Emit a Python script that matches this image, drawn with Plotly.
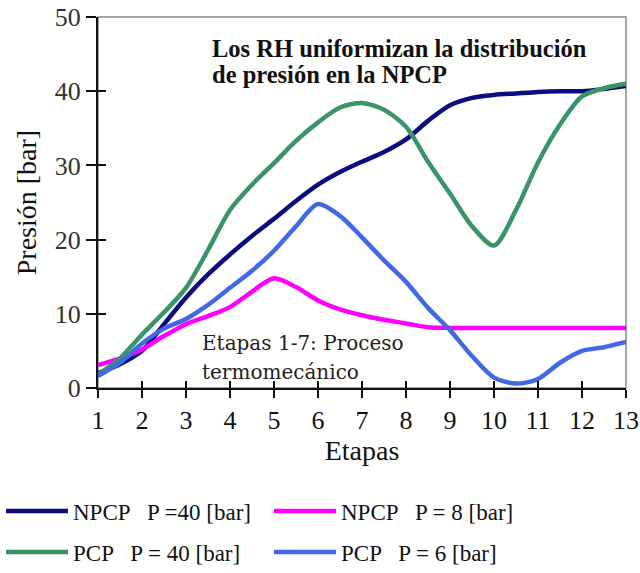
import plotly.graph_objects as go

etapas = [1, 1.5, 2, 2.5, 3, 3.5, 4, 4.5, 5, 5.5, 6, 6.5, 7, 7.5, 8, 8.5, 9, 9.5, 10, 10.5, 11, 11.5, 12, 12.5, 13]

npcp_40 = [2.0, 3.2, 5.0, 8.6, 12.2, 15.3, 18.0, 20.5, 22.8, 25.2, 27.4, 29.1, 30.5, 31.8, 33.5, 36.0, 38.1, 39.1, 39.5, 39.7, 39.9, 40.0, 40.0, 40.3, 40.7]
npcp_8 = [3.1, 4.0, 5.2, 7.0, 8.6, 9.7, 10.9, 13.0, 14.8, 13.6, 11.8, 10.6, 9.8, 9.2, 8.7, 8.2, 8.1, 8.1, 8.1, 8.1, 8.1, 8.1, 8.1, 8.1, 8.1]
pcp_40 = [1.8, 4.0, 7.2, 10.2, 13.5, 18.6, 24.0, 27.4, 30.3, 33.3, 35.8, 37.8, 38.4, 37.5, 35.2, 30.5, 26.2, 21.8, 19.2, 24.0, 30.4, 35.5, 39.3, 40.4, 41.0]
pcp_6 = [1.6, 3.4, 6.0, 8.0, 9.3, 11.2, 13.5, 15.8, 18.5, 21.8, 24.8, 23.2, 20.3, 17.2, 14.3, 10.8, 7.8, 4.3, 1.4, 0.6, 1.2, 3.4, 5.0, 5.5, 6.2]

series_names = ["NPCP   P =40 [bar]", "NPCP   P = 8 [bar]", "PCP   P = 40 [bar]", "PCP   P = 6 [bar]"]
series_colors = ["#0c0c80", "#ff00ff", "#3a9468", "#4169e6"]
series_legends = ["legend", "legend2", "legend3", "legend4"]

x_ticks = list(range(1, 14))
y_ticks = [0, 10, 20, 30, 40, 50]

SERIF = "Liberation Serif"

fig = go.Figure()
for name, vals, col, lg in zip(series_names, [npcp_40, npcp_8, pcp_40, pcp_6], series_colors, series_legends):
    fig.add_trace(go.Scatter(
        x=etapas, y=vals, mode="lines", name=name,
        line=dict(color=col, width=4.5, shape="spline", smoothing=0.8),
        legend=lg,
    ))

# overlay axes (inside half of the crossing ticks)
fig.add_trace(go.Scatter(x=etapas, y=npcp_40, xaxis="x2", yaxis="y2", mode="lines",
                         line=dict(width=0), hoverinfo="skip", showlegend=False, opacity=0))

axis_common = dict(showgrid=False, zeroline=False, automargin=False)


def legend_at(px, py):
    return dict(
        orientation="h", xref="container", yref="container",
        x=px / 640, y=1 - py / 573, xanchor="left", yanchor="middle",
        itemwidth=62,
        font=dict(size=23, family=SERIF, color="#111"),
        bgcolor="rgba(0,0,0,0)",
    )


fig.update_layout(
    template="none",
    width=640, height=573,
    margin=dict(l=98, r=14, t=17, b=185, autoexpand=False),
    paper_bgcolor="white", plot_bgcolor="white",
    font=dict(family=SERIF, color="#111"),
    showlegend=True,
    xaxis=dict(
        range=[1, 13], tickvals=x_ticks, ticktext=[str(v) for v in x_ticks],
        ticks="outside", ticklen=8, tickwidth=1.5, tickcolor="#111",
        showline=True, linecolor="#111", linewidth=2,
        tickfont=dict(size=26, family=SERIF, color="#111"),
        title=dict(text="Etapas", font=dict(size=28, family=SERIF, color="#111"), standoff=6),
        **axis_common,
    ),
    yaxis=dict(
        range=[0, 50], tickvals=y_ticks, ticktext=[str(v) for v in y_ticks],
        ticks="outside", ticklen=10, tickwidth=1.5, tickcolor="#111",
        showline=True, linecolor="#111", linewidth=2,
        tickfont=dict(size=26, family=SERIF, color="#333"),
        title=dict(text="Presión [bar]", font=dict(size=28, family=SERIF, color="#111"), standoff=10),
        **axis_common,
    ),
    xaxis2=dict(
        range=[1, 13], tickvals=x_ticks, overlaying="x", side="bottom",
        ticks="inside", ticklen=7, tickwidth=1.5, tickcolor="#111",
        showticklabels=False, showline=False, **axis_common,
    ),
    yaxis2=dict(
        range=[0, 50], tickvals=y_ticks[:-1], overlaying="y", side="left",
        ticks="inside", ticklen=8, tickwidth=1.5, tickcolor="#111",
        showticklabels=False, showline=False, **axis_common,
    ),
    legend=legend_at(1, 511),
    legend2=legend_at(269, 511),
    legend3=legend_at(1, 552),
    legend4=legend_at(269, 552),
    shapes=[dict(type="rect", xref="paper", yref="paper", x0=0, x1=1, y0=0, y1=1,
                 line=dict(color="#888", width=1.5), layer="below")],
    annotations=[
        dict(x=3.55, y=45.8, xref="x", yref="y", xanchor="left", yanchor="middle", showarrow=False,
             text="<b>Los RH uniformizan la distribución</b>", font=dict(size=24.5, family=SERIF, color="#111")),
        dict(x=3.55, y=42.2, xref="x", yref="y", xanchor="left", yanchor="middle", showarrow=False,
             text="<b>de presión en la NPCP</b>", font=dict(size=24.5, family=SERIF, color="#111")),
        dict(x=3.32, y=6.1, xref="x", yref="y", xanchor="left", yanchor="middle", showarrow=False,
             text="Etapas 1-7: Proceso", font=dict(size=20, family="DejaVu Serif", color="#222")),
        dict(x=3.32, y=2.1, xref="x", yref="y", xanchor="left", yanchor="middle", showarrow=False,
             text="termomecánico", font=dict(size=20, family="DejaVu Serif", color="#222")),
    ],
)

fig.write_html("out.html", config={"displayModeBar": False},
               post_script="document.body.style.margin='0';document.body.style.padding='0';")
